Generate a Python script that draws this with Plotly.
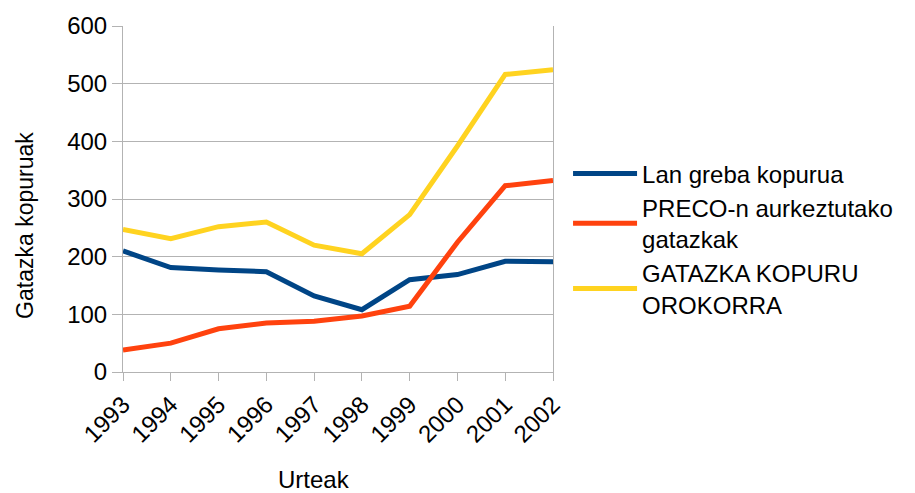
import plotly.graph_objects as go

years = ["1993", "1994", "1995", "1996", "1997", "1998", "1999", "2000", "2001", "2002"]
lan_greba = [210, 181, 177, 174, 132, 108, 160, 169, 192, 191]
preco = [38, 50, 75, 85, 88, 97, 114, 225, 323, 332]
guztira = [247, 231, 252, 260, 220, 205, 273, 392, 516, 524]

series = [
    ("Lan greba kopurua", lan_greba, "#004586"),
    ("PRECO-n aurkeztutako<br>gatazkak", preco, "#ff420e"),
    ("GATAZKA KOPURU<br>OROKORRA", guztira, "#ffd320"),
]

fig = go.Figure()
for name, vals, color in series:
    fig.add_trace(go.Scatter(
        x=years, y=vals, name=name, mode="lines",
        line=dict(color=color, width=5),
    ))

font = dict(family="Liberation Sans, Arial, sans-serif", size=24, color="#000000")

fig.update_layout(
    width=915, height=493,
    margin=dict(l=123, r=362, t=26, b=121),
    paper_bgcolor="white", plot_bgcolor="white",
    font=font,
    showlegend=True,
    legend=dict(
        x=1.035, y=0.385, xanchor="left", yanchor="middle",
        font=dict(size=24), itemwidth=64, tracegroupgap=4,
        bgcolor="rgba(0,0,0,0)",
    ),
    xaxis=dict(
        type="category", range=[0, 9], automargin=False,
        tickangle=-45, tickfont=dict(size=24),
        ticks="outside", ticklen=8, tickcolor="#b3b3b3",
        showline=True, linecolor="#b3b3b3", linewidth=1,
        showgrid=False, zeroline=False,
    ),
    yaxis=dict(
        range=[0, 600], dtick=100, automargin=False,
        tickfont=dict(size=24),
        ticks="outside", ticklen=10, tickcolor="#b3b3b3",
        showline=True, linecolor="#b3b3b3", linewidth=1, mirror=True,
        showgrid=True, gridcolor="#b3b3b3", gridwidth=1, zeroline=False,
    ),
    annotations=[
        dict(text="Urteak", xref="paper", yref="paper", x=0.444, y=-0.312,
             xanchor="center", yanchor="middle", showarrow=False,
             font=dict(size=24)),
        dict(text="Gatazka kopuruak", xref="paper", yref="paper", x=-0.228, y=0.425,
             xanchor="center", yanchor="middle", textangle=-90, showarrow=False,
             font=dict(size=23)),
    ],
)

fig.write_html("out.html")
